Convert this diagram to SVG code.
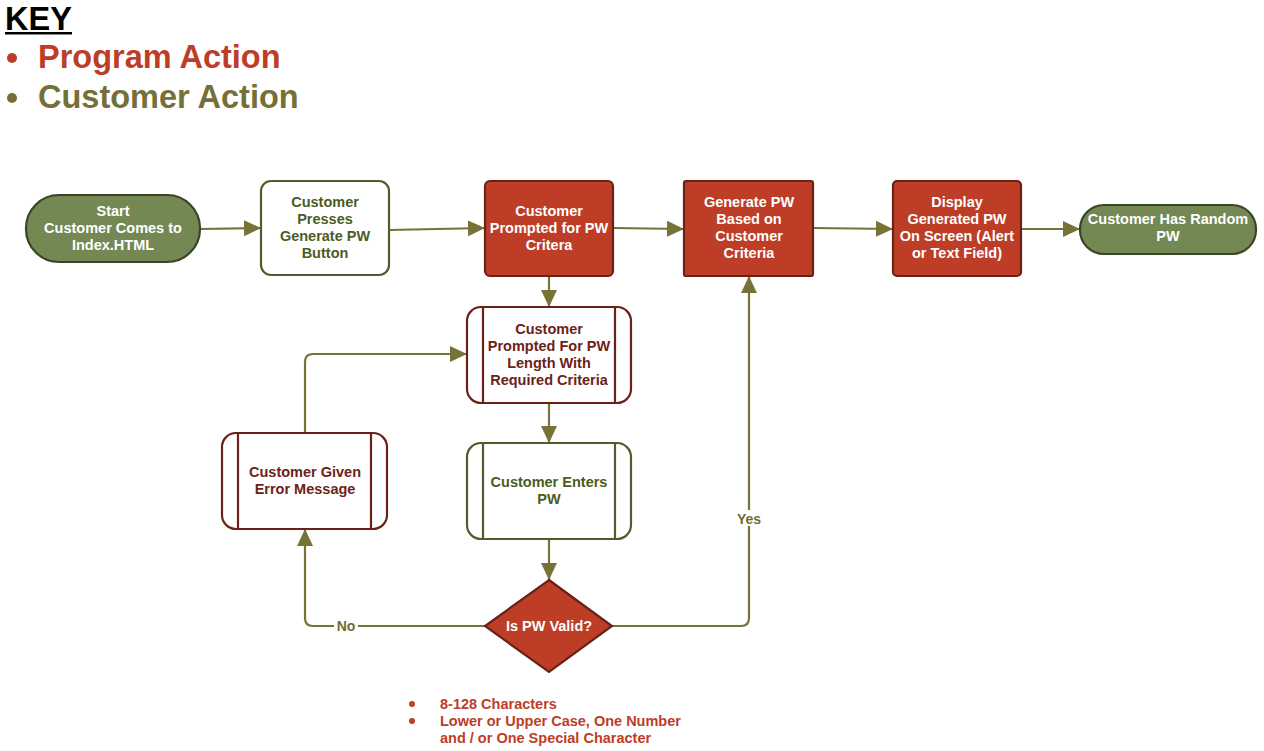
<svg xmlns="http://www.w3.org/2000/svg" width="1264" height="751" viewBox="0 0 1264 751">
<style>
text{font-family:"Liberation Sans",Arial,sans-serif;font-weight:bold;text-anchor:middle}
.t{font-size:14.5px}
.w{fill:#ffffff}
.g{fill:#4B5C24}
.m{fill:#6B2218}
.red{fill:#BD3D27;stroke:#6A2117;stroke-width:2.2}
.grn{fill:#748853;stroke:#3A4527;stroke-width:2.2}
.wg{fill:#ffffff;stroke:#4E5E2C;stroke-width:2.2}
.wm{fill:#ffffff;stroke:#6A2117;stroke-width:2.2}
.bar{stroke-width:2.2;fill:none}
.c{fill:none;stroke:#777236;stroke-width:2.2}
.lbl{font-size:14px;fill:#6F6C33}
.k{font-size:32.5px;text-anchor:start}
</style>
<defs>
<marker id="ah" markerUnits="userSpaceOnUse" markerWidth="18" markerHeight="18" refX="17" refY="8" orient="auto">
<path d="M0,0 L17,8 L0,16 Z" fill="#777236"/>
</marker>
</defs>
<rect width="1264" height="751" fill="#ffffff"/>

<g id="key">
<text class="k" x="5" y="30" fill="#000000">KEY</text>
<rect x="5" y="32" width="67" height="2.5" fill="#000000"/>
<circle cx="12" cy="58" r="5" fill="#BD3D27"/>
<text class="k" x="38" y="68" fill="#BD3D27">Program Action</text>
<circle cx="12" cy="98" r="5" fill="#757038"/>
<text class="k" x="38" y="108" fill="#757038">Customer Action</text>
</g>

<g id="connectors">
<path class="c" d="M200,229 L261,228" marker-end="url(#ah)"/>
<path class="c" d="M389,230 L485,228" marker-end="url(#ah)"/>
<path class="c" d="M613,228 L684,229" marker-end="url(#ah)"/>
<path class="c" d="M813,228 L893,229" marker-end="url(#ah)"/>
<path class="c" d="M1021,229 L1080,229" marker-end="url(#ah)"/>
<path class="c" d="M549,276 L549,307" marker-end="url(#ah)"/>
<path class="c" d="M549,403 L549,443" marker-end="url(#ah)"/>
<path class="c" d="M549,539 L549,580" marker-end="url(#ah)"/>
<path class="c" d="M612,626 L741,626 Q749,626 749,618 L749,276" marker-end="url(#ah)"/>
<path class="c" d="M485,626 L313,626 Q305,626 305,618 L305,529" marker-end="url(#ah)"/>
<path class="c" d="M305,433 L305,362 Q305,354 313,354 L467,354" marker-end="url(#ah)"/>
<rect x="735" y="510" width="28" height="16" fill="#ffffff"/>
<text class="lbl" x="749" y="524">Yes</text>
<rect x="334" y="618" width="24" height="16" fill="#ffffff"/>
<text class="lbl" x="346" y="631">No</text>
</g>

<g id="start">
<rect class="grn" x="26" y="195" width="174" height="67" rx="33"/>
<text class="t w" x="113" y="216">Start</text>
<text class="t w" x="113" y="233">Customer Comes to</text>
<text class="t w" x="113" y="250">Index.HTML</text>
</g>

<g id="presses">
<rect class="wg" x="261" y="181" width="128" height="94" rx="10"/>
<text class="t g" x="325" y="207">Customer</text>
<text class="t g" x="325" y="224">Presses</text>
<text class="t g" x="325" y="241">Generate PW</text>
<text class="t g" x="325" y="258">Button</text>
</g>

<g id="prompted-criteria">
<rect class="red" x="485" y="181" width="128" height="95" rx="5"/>
<text class="t w" x="549" y="216">Customer</text>
<text class="t w" x="549" y="233">Prompted for PW</text>
<text class="t w" x="549" y="250">Critera</text>
</g>

<g id="generate">
<rect class="red" x="684" y="181" width="129" height="95" rx="2"/>
<text class="t w" x="749" y="207">Generate PW</text>
<text class="t w" x="749" y="224">Based on</text>
<text class="t w" x="749" y="241">Customer</text>
<text class="t w" x="749" y="258">Criteria</text>
</g>

<g id="display">
<rect class="red" x="893" y="181" width="128" height="95" rx="4"/>
<text class="t w" x="957" y="207">Display</text>
<text class="t w" x="957" y="224">Generated PW</text>
<text class="t w" x="957" y="241">On Screen (Alert</text>
<text class="t w" x="957" y="258">or Text Field)</text>
</g>

<g id="end">
<rect class="grn" x="1080" y="205" width="176" height="49" rx="24"/>
<text class="t w" x="1168" y="224">Customer Has Random</text>
<text class="t w" x="1168" y="241">PW</text>
</g>

<g id="prompted-length">
<rect class="wm" x="467" y="307" width="164" height="96" rx="14"/>
<path class="bar" stroke="#6A2117" d="M483,307 L483,403 M615,307 L615,403"/>
<text class="t m" x="549" y="334">Customer</text>
<text class="t m" x="549" y="351">Prompted For PW</text>
<text class="t m" x="549" y="368">Length With</text>
<text class="t m" x="549" y="385">Required Criteria</text>
</g>

<g id="enters">
<rect class="wg" x="467" y="443" width="164" height="96" rx="14"/>
<path class="bar" stroke="#4E5E2C" d="M483,443 L483,539 M615,443 L615,539"/>
<text class="t g" x="549" y="487">Customer Enters</text>
<text class="t g" x="549" y="504">PW</text>
</g>

<g id="error">
<rect class="wm" x="222" y="433" width="165" height="96" rx="14"/>
<path class="bar" stroke="#6A2117" d="M238,433 L238,529 M371,433 L371,529"/>
<text class="t m" x="305" y="477">Customer Given</text>
<text class="t m" x="305" y="494">Error Message</text>
</g>

<g id="valid">
<path class="red" d="M549,580 L612,626 L549,672 L485,626 Z"/>
<text class="t w" x="549" y="631">Is PW Valid?</text>
</g>

<g id="criteria-notes">
<circle cx="412" cy="704" r="3" fill="#BD3D27"/>
<circle cx="412" cy="721" r="3" fill="#BD3D27"/>
<text class="t" x="440" y="709" style="text-anchor:start" fill="#BD3D27">8-128 Characters</text>
<text class="t" x="440" y="726" style="text-anchor:start" fill="#BD3D27">Lower or Upper Case, One Number</text>
<text class="t" x="440" y="743" style="text-anchor:start" fill="#BD3D27">and / or One Special Character</text>
</g>
</svg>
